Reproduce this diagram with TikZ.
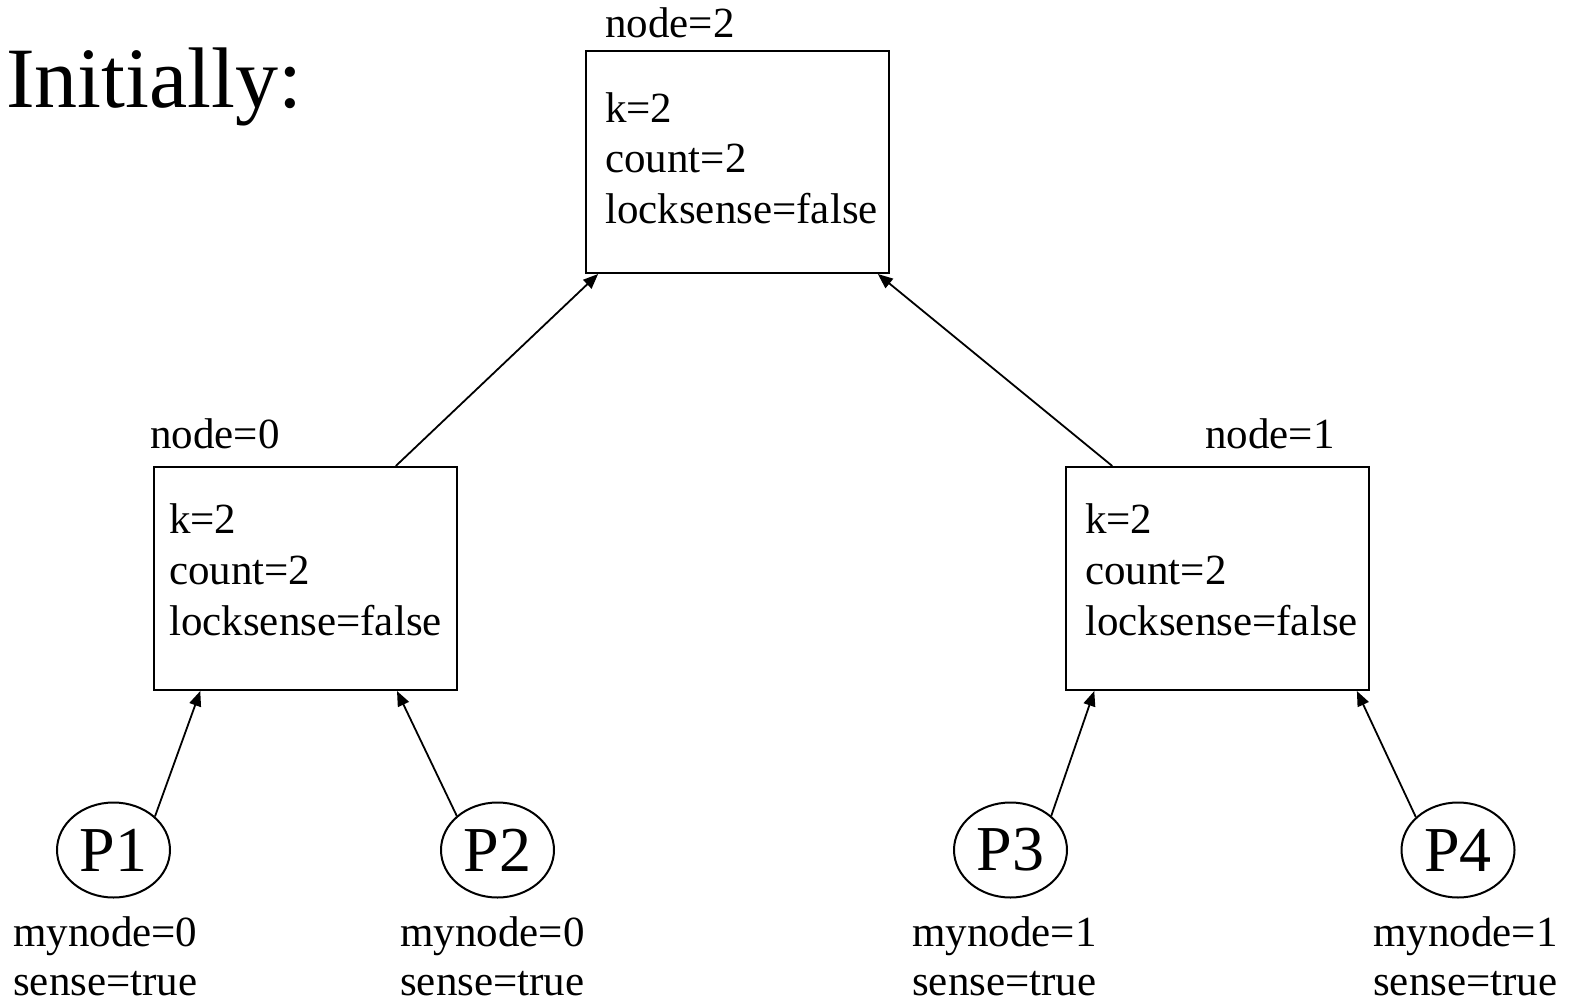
\documentclass[tikz,border=0pt]{standalone}
\usepackage{fontspec}
\setmainfont{Liberation Serif}
\usetikzlibrary{arrows.meta,shapes.geometric,calc}

\begin{document}
\begin{tikzpicture}[x=1pt,y=-1pt,
  txt/.style={anchor=base west, inner sep=0pt, font=\fontsize{43}{50}\selectfont},
  statebox/.style={draw, line width=2pt, minimum width=303pt, minimum height=222pt,
                   anchor=north west, inner sep=0pt},
  proc/.style={draw, ellipse, line width=2pt, minimum width=113pt, minimum height=95pt,
               inner sep=0pt, font=\fontsize{64}{64}\selectfont},
  link/.style={line width=1.8pt, -{Triangle[length=15pt,width=12pt]}}]
\useasboundingbox (0,0) rectangle (1569,1004);

% heading
\node[txt, font=\fontsize{86}{86}\selectfont] (title) at (6,107) {Initially:};

% root of the combining tree
\node[txt] (lbl2) at (605,37) {node=2};
\node[statebox] (top) at (585,50) {};
\node[txt] (t2a) at (605,122) {k=2};
\node[txt] (t2b) at (605,172) {count=2};
\node[txt] (t2c) at (605,223) {locksense=false};

% left inner node
\node[txt] (lbl0) at (150,448) {node=0};
\node[statebox, minimum height=223pt] (b0) at (153,466) {};
\node[txt] (t0a) at (169,533) {k=2};
\node[txt] (t0b) at (169,584) {count=2};
\node[txt] (t0c) at (169,635) {locksense=false};

% right inner node
\node[txt] (lbl1) at (1205,448) {node=1};
\node[statebox, minimum height=223pt] (b1) at (1065,466) {};
\node[txt] (t1a) at (1085,533) {k=2};
\node[txt] (t1b) at (1085,584) {count=2};
\node[txt] (t1c) at (1085,635) {locksense=false};

% processors
\node[proc] (P1) at (113.5,850) {P1};
\node[proc] (P2) at (497.5,850) {P2};
\node[proc] (P3) at (1010.5,850) {P3};
\node[proc] (P4) at (1458,850) {P4};

% per-processor state
\node[txt] (m1) at (13,946) {mynode=0};
\node[txt] (s1) at (13,995) {sense=true};
\node[txt] (m2) at (400,946) {mynode=0};
\node[txt] (s2) at (400,995) {sense=true};
\node[txt] (m3) at (912,946) {mynode=1};
\node[txt] (s3) at (912,995) {sense=true};
\node[txt] (m4) at (1373,946) {mynode=1};
\node[txt] (s4) at (1373,995) {sense=true};

% tree edges
\draw[link] ($(b0.north west)!0.796!(b0.north east)$) -- ($(top.south west)!0.043!(top.south east)$);
\draw[link] ($(b1.north west)!0.155!(b1.north east)$) -- ($(top.south west)!0.96!(top.south east)$);
\draw[link] (P1.39)  -- ($(b0.south west)!0.155!(b0.south east)$);
\draw[link] (P2.140) -- ($(b0.south west)!0.80!(b0.south east)$);
\draw[link] (P3.40)  -- ($(b1.south west)!0.096!(b1.south east)$);
\draw[link] (P4.142) -- ($(b1.south west)!0.957!(b1.south east)$);
\end{tikzpicture}
\end{document}
